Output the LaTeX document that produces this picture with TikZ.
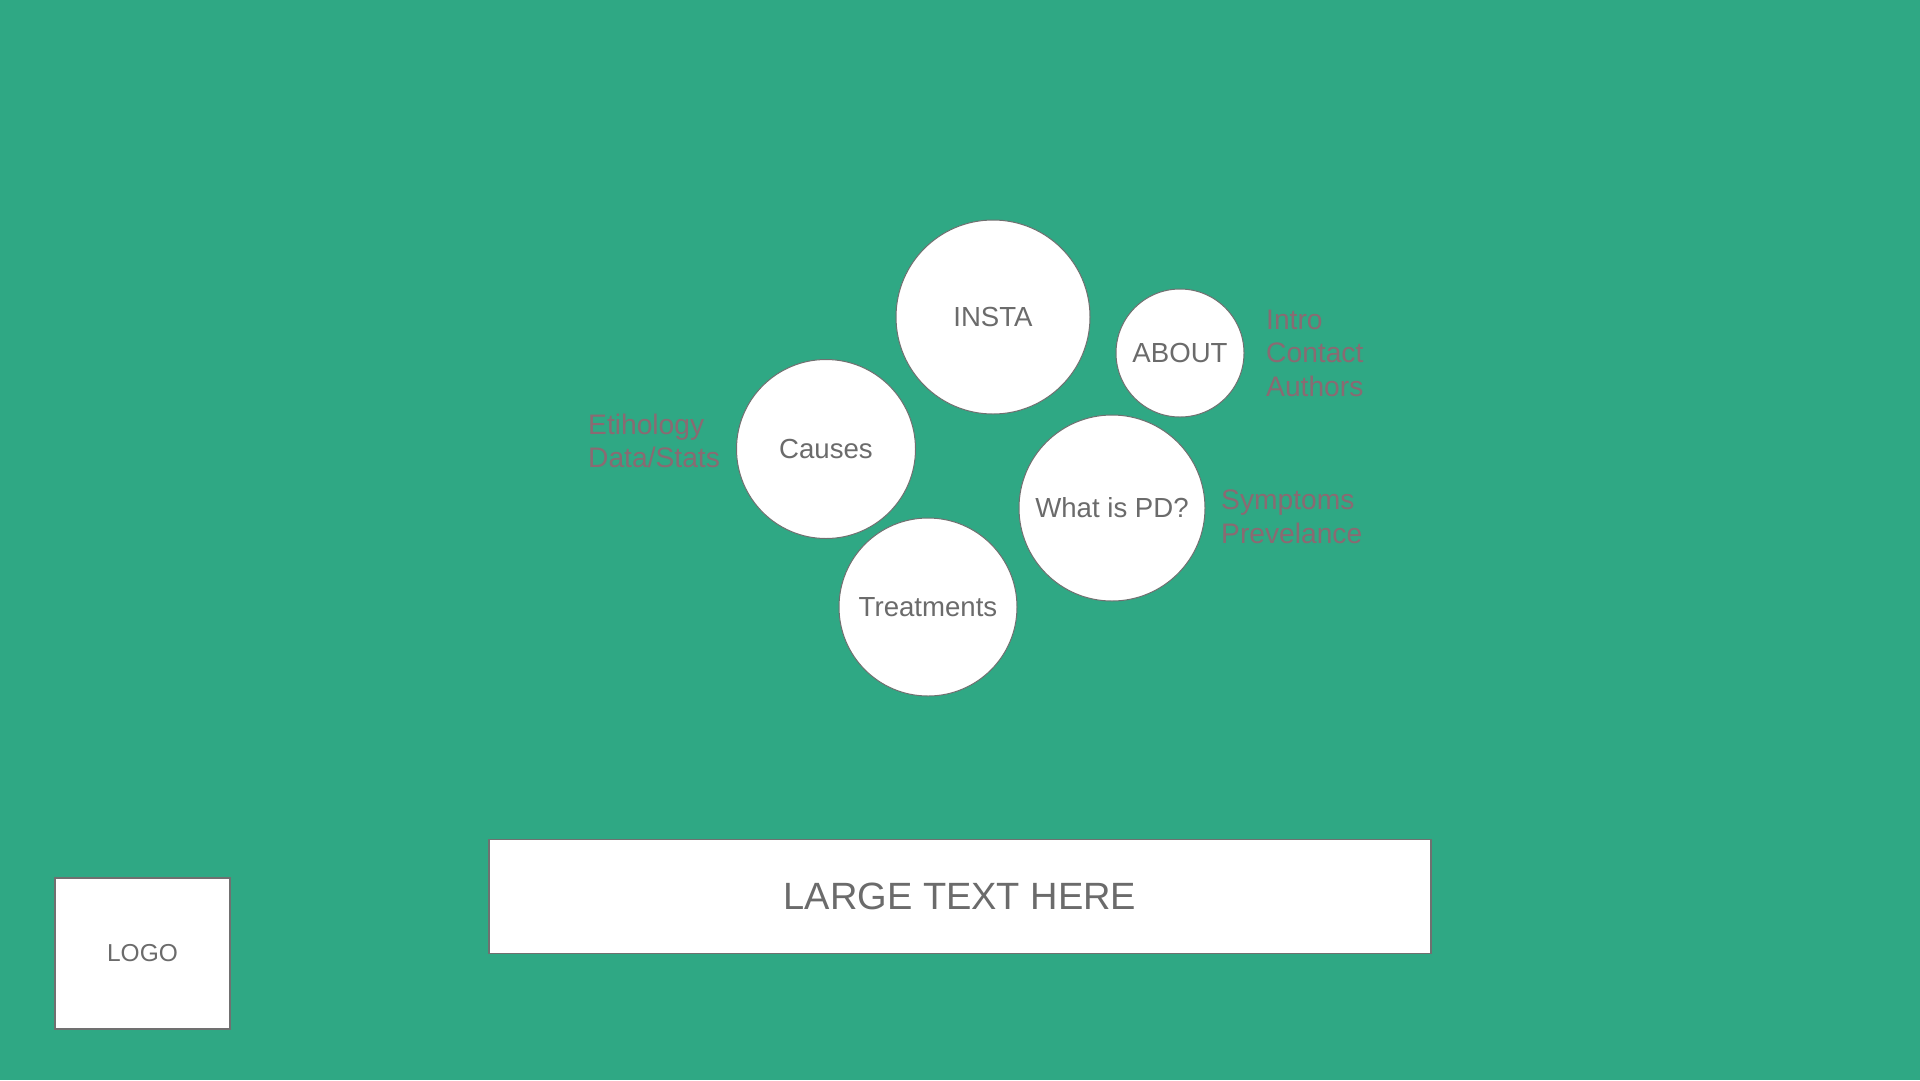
\documentclass[tikz,border=0pt]{standalone}
\usepackage{fontspec}
\setmainfont{Liberation Sans}
\definecolor{bg}{HTML}{2FA884}
\definecolor{txt}{HTML}{6B6B6B}
\definecolor{lab}{HTML}{8A6A72}
\definecolor{edge}{HTML}{707070}
\begin{document}
\begin{tikzpicture}[x=1pt,y=-1pt,
  bubble/.style={circle,fill=white,draw=edge,line width=1pt,inner sep=0pt,text=txt,font=\fontsize{27.6}{32}\selectfont},
  sidelab/.style={anchor=west,align=left,text=lab,inner sep=0pt,font=\fontsize{28.2}{33.5}\selectfont},
  whitebox/.style={fill=white,draw=edge,line width=1.2pt,inner sep=0pt,text=txt}]
\fill[bg] (0,0) rectangle (1920,1080);
\useasboundingbox (0,0) rectangle (1920,1080);
\node[bubble,minimum size=194pt] (insta) at (993,317) {INSTA};
\node[bubble,minimum size=128pt] (about) at (1180,353) {ABOUT};
\node[bubble,minimum size=179pt] (causes) at (826,449) {Causes};
\node[bubble,minimum size=186pt] (pd) at (1112,508) {What is PD?};
\node[bubble,minimum size=178pt] (treat) at (928,607) {Treatments};
\node[sidelab] (l1) at (1266,353) {Intro\\Contact\\Authors};
\node[sidelab] (l2) at (588,441) {Etihology\\Data/Stats};
\node[sidelab] (l3) at (1221,517) {Symptoms\\Prevelance};
\node[whitebox,minimum width=942pt,minimum height=114pt,font=\fontsize{38}{44}\selectfont] (large) at (960,896.5) {LARGE TEXT HERE};
\node[whitebox,minimum width=175pt,minimum height=151pt,font=\fontsize{24.5}{29}\selectfont] (logo) at (142.5,953.5) {LOGO};
\end{tikzpicture}
\end{document}
